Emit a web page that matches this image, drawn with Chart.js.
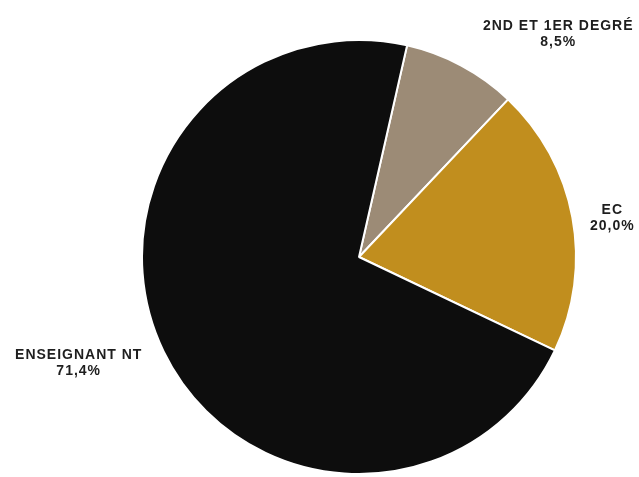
<!DOCTYPE html>
<html>
<head>
<meta charset="utf-8">
<script src="https://cdn.jsdelivr.net/npm/chart.js@4"></script>
<style>
  html, body { margin: 0; padding: 0; background: #fff; }
  #wrap { width: 639px; height: 477px; }
</style>
</head>
<body>
<div id="wrap"><canvas id="pieChart" width="639" height="477"></canvas></div>
<script>
const categories = ["2ND ET 1ER DEGRÉ", "EC", "ENSEIGNANT NT"];
const shares = [8.5, 20.0, 71.4];
const sliceColors = ["#9c8b76", "#c18e1e", "#0d0d0d"];

// label block offsets from each slice's outer mid point
const labelOffsets = [[97, -31], [40, 1], [-85, 12]];

const outsideLabels = {
  id: "outsideLabels",
  afterDatasetsDraw(chart) {
    const ctx = chart.ctx;
    const meta = chart.getDatasetMeta(0);
    ctx.save();
    ctx.font = "bold 14px 'Liberation Sans', Arial, sans-serif";
    ctx.letterSpacing = "1px";
    ctx.fillStyle = "#1e1e1e";
    ctx.textAlign = "center";
    ctx.textBaseline = "middle";
    meta.data.forEach((arc, i) => {
      const mid = (arc.startAngle + arc.endAngle) / 2;
      const x = arc.x + Math.cos(mid) * arc.outerRadius + labelOffsets[i][0];
      const y = arc.y + Math.sin(mid) * arc.outerRadius + labelOffsets[i][1];
      const pct = shares[i].toFixed(1).replace(".", ",") + "%";
      ctx.fillText(categories[i], x, y - 8);
      ctx.fillText(pct, x, y + 8);
    });
    ctx.restore();
  }
};

new Chart(document.getElementById("pieChart"), {
  type: "pie",
  data: {
    labels: categories,
    datasets: [{
      data: shares,
      backgroundColor: sliceColors,
      borderColor: "#ffffff",
      borderWidth: 2
    }]
  },
  options: {
    responsive: false,
    animation: false,
    rotation: 12.8,
    layout: { padding: { left: 141, right: 62, top: 39, bottom: 2 } },
    plugins: {
      legend: { display: false },
      tooltip: { enabled: false }
    }
  },
  plugins: [outsideLabels]
});
</script>
</body>
</html>
